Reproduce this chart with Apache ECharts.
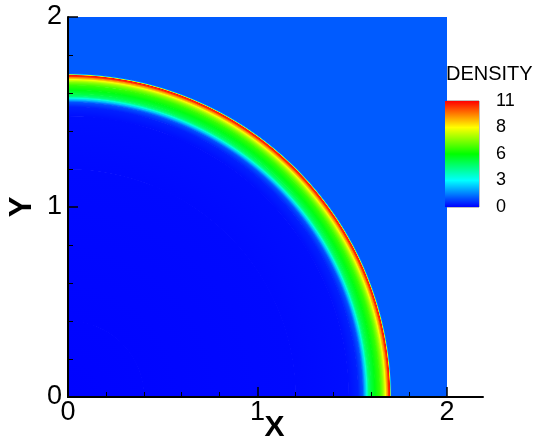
<!DOCTYPE html>
<html>
<head>
<meta charset="utf-8">
<script src="https://cdn.jsdelivr.net/npm/echarts@6/dist/echarts.min.js"></script>
<style>
  html, body { margin: 0; padding: 0; background: #fff; }
  #chart { width: 542px; height: 447px; }
</style>
</head>
<body>
<div id="chart"></div>
<script>
// Radial density profile of the expanding shell (quarter domain, origin at the corner)
const radius  = [0.00, 0.40, 1.20, 1.48, 1.53, 1.555, 1.567, 1.577, 1.587, 1.60, 1.62, 1.645, 1.663, 1.675, 1.685, 1.693, 1.698, 1.701, 1.704, 1.707, 2.90];
const density = [0.03, 0.05, 0.10, 0.15, 0.35, 0.90,  2.00,  3.20,  4.30,  4.90, 5.40, 6.20,  7.20,  8.30,  9.60,  10.80, 11.00, 8.00,  2.00,  1.00,  1.00];

// Contour legend levels (labels are shown rounded)
const legendLevels = [0, 2.8, 5.6, 8.4, 11.2];
const legendRange = [0, 11.2];
const palette = ['#0000ff', '#00ffff', '#00ff00', '#ffff00', '#ff0000'];

const FONT = "'Liberation Sans', Arial, Helvetica, sans-serif";

const chart = echarts.init(document.getElementById('chart'), null, { renderer: 'canvas' });

// Each item draws the annulus between its radius and the next one,
// shading radially from its own mapped colour to the next item's colour.
function renderRing(params, api) {
  const i = params.dataIndexInside;
  if (i >= params.dataInsideLength - 1) return null;
  const o = api.coord([0, 0]);
  const rIn = api.size([api.value(0), 0])[0];
  const rOut = api.size([api.value(0, i + 1), 0])[0];
  const rDraw = rOut + 0.6;
  const cIn = api.visual('color');
  const cOut = api.visual('color', i + 1);
  return {
    type: 'sector',
    shape: { cx: o[0], cy: o[1], r0: rIn, r: rDraw, startAngle: -Math.PI / 2, endAngle: 0, clockwise: true },
    style: {
      fill: {
        type: 'radial', x: o[0], y: o[1], r: rDraw, global: true,
        colorStops: [
          { offset: rIn / rDraw, color: cIn },
          { offset: rOut / rDraw, color: cOut },
          { offset: 1, color: cOut }
        ]
      }
    },
    silent: true
  };
}

const axisBlack = { color: '#000', width: 2 };

const option = {
  animation: false,
  backgroundColor: '#ffffff',
  textStyle: { fontFamily: FONT },
  title: {
    text: 'DENSITY',
    left: 446, top: 64, padding: 0,
    textStyle: { fontFamily: FONT, fontSize: 20, fontWeight: 'normal', color: '#000' }
  },
  grid: [
    { left: 68, top: 17, width: 379, height: 380, containLabel: false, outerBoundsMode: 'none' },
    { left: 68, top: 17, width: 415, height: 380, containLabel: false, outerBoundsMode: 'none' },
    { left: 445, top: 101, width: 34, height: 106, containLabel: false, outerBoundsMode: 'none',
      show: true, borderColor: '#808080', borderWidth: 1, backgroundColor: 'transparent' }
  ],
  xAxis: [
    {
      gridIndex: 0, type: 'value', min: 0, max: 2, interval: 1,
      axisLine: { lineStyle: axisBlack },
      axisTick: { inside: true, length: 10, lineStyle: { color: '#000', width: 1.5 } },
      minorTick: { show: true, splitNumber: 5, length: 5, lineStyle: { color: '#000', width: 1 } },
      splitLine: { show: false },
      axisLabel: { fontSize: 27, color: '#000', margin: 2, fontFamily: FONT },
      name: 'X', nameLocation: 'middle', nameGap: 16, nameMoveOverlap: false,
      nameTextStyle: { fontSize: 30, fontWeight: 'bold', color: '#000', fontFamily: FONT, padding: [0, 0, 0, 34] },
      z: 5
    },
    {
      gridIndex: 1, type: 'value', min: 0, max: 1,
      axisLine: { lineStyle: axisBlack },
      axisTick: { show: false }, axisLabel: { show: false }, splitLine: { show: false },
      z: 5
    },
    { gridIndex: 2, type: 'category', data: ['level'], show: false }
  ],
  yAxis: [
    {
      gridIndex: 0, type: 'value', min: 0, max: 2, interval: 1,
      axisLine: { lineStyle: axisBlack },
      axisTick: { inside: true, length: 10, lineStyle: { color: '#000', width: 1.5 } },
      minorTick: { show: true, splitNumber: 5, length: 5, lineStyle: { color: '#000', width: 1 } },
      splitLine: { show: false },
      axisLabel: { fontSize: 27, color: '#000', margin: 6, fontFamily: FONT },
      name: 'Y', nameLocation: 'middle', nameRotate: 90, nameGap: 30, nameMoveOverlap: false,
      nameTextStyle: { fontSize: 31, fontWeight: 'bold', color: '#000', fontFamily: FONT },
      z: 5
    },
    { gridIndex: 1, type: 'value', show: false },
    {
      gridIndex: 2, type: 'value', min: legendRange[0], max: legendRange[1], position: 'right',
      axisLine: { show: false }, axisTick: { show: false }, splitLine: { show: false },
      axisLabel: {
        customValues: legendLevels,
        formatter: v => String(Math.round(v)),
        fontSize: 18, color: '#000', margin: 17, fontFamily: FONT
      }
    }
  ],
  visualMap: {
    show: false, type: 'continuous',
    min: legendRange[0], max: legendRange[1],
    dimension: 1, seriesIndex: 0,
    inRange: { color: palette }
  },
  series: [
    {
      type: 'custom', xAxisIndex: 0, yAxisIndex: 0, clip: true,
      renderItem: renderRing,
      data: radius.map((r, i) => [r, density[i]]),
      z: 1
    },
    {
      type: 'bar', xAxisIndex: 2, yAxisIndex: 2, barWidth: '100%', silent: true,
      data: [legendRange[1]],
      itemStyle: {
        color: {
          type: 'linear', x: 0, y: 1, x2: 0, y2: 0,
          colorStops: palette.map((c, k) => ({ offset: k / (palette.length - 1), color: c }))
        }
      }
    }
  ]
};

chart.setOption(option);
</script>
</body>
</html>
